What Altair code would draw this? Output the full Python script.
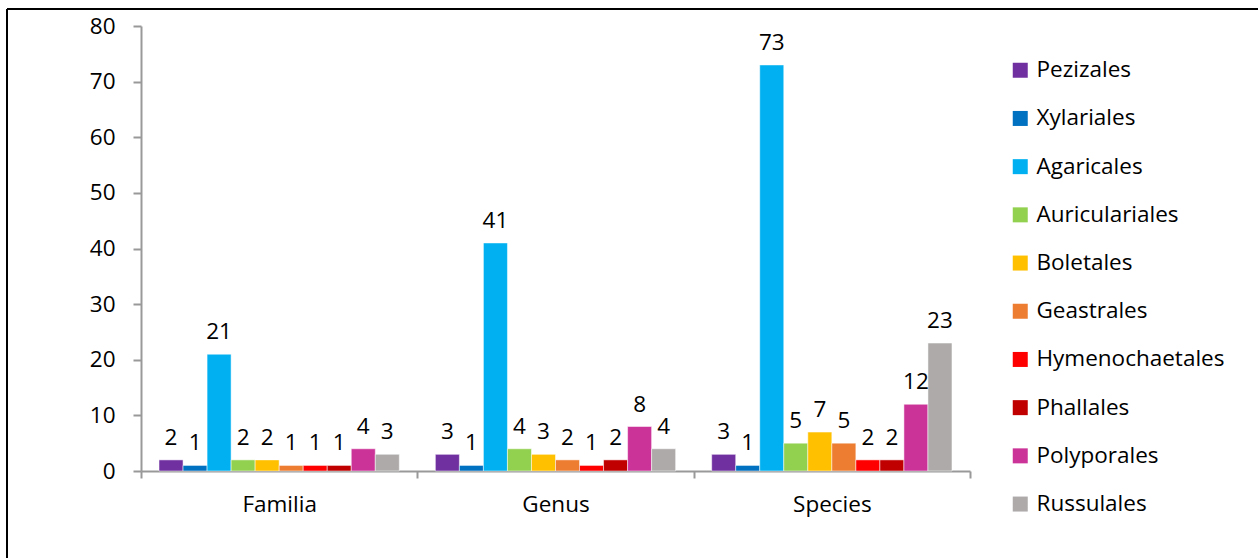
import altair as alt
import pandas as pd

# Taxonomic ranks on the x axis and fungal orders as series
ranks = ["Familia", "Genus", "Species"]
orders = [
    "Pezizales", "Xylariales", "Agaricales", "Auriculariales", "Boletales",
    "Geastrales", "Hymenochaetales", "Phallales", "Polyporales", "Russulales",
]
familia = [2, 1, 21, 2, 2, 1, 1, 1, 4, 3]
genus = [3, 1, 41, 4, 3, 2, 1, 2, 8, 4]
species = [3, 1, 73, 5, 7, 5, 2, 2, 12, 23]
colors = [
    "#7030A0", "#0070C0", "#00B0F0", "#92D050", "#FFC000",
    "#ED7D31", "#FF0000", "#C00000", "#CC3399", "#AEAAAA",
]

rows = []
for rank, vals in zip(ranks, [familia, genus, species]):
    for order, v in zip(orders, vals):
        rows.append({"rank": rank, "order": order, "count": v})
df = pd.DataFrame(rows)

FONT = "Open Sans"
FS = 22.5
AXIS_GRAY = "#999999"

x_enc = alt.X(
    "rank:N",
    sort=ranks,
    title=None,
    scale=alt.Scale(paddingInner=0, paddingOuter=0),
    axis=alt.Axis(
        labelAngle=0, labelFontSize=FS, labelColor="#000000", labelFont=FONT,
        tickBand="extent", tickSize=7, tickColor=AXIS_GRAY, tickWidth=2,
        domainColor=AXIS_GRAY, domainWidth=2, labelPadding=15, grid=False,
    ),
)
xoff_enc = alt.XOffset(
    "order:N", sort=orders, scale=alt.Scale(paddingInner=0, paddingOuter=0.75)
)
y_enc = alt.Y(
    "count:Q",
    title=None,
    scale=alt.Scale(domain=[0, 80], nice=False),
    axis=alt.Axis(
        values=list(range(0, 81, 10)), labelFontSize=FS, labelColor="#000000",
        labelFont=FONT, tickSize=8, tickColor=AXIS_GRAY, tickWidth=2,
        domainColor=AXIS_GRAY, domainWidth=2, labelPadding=18, grid=False,
    ),
)

bars = alt.Chart(df).mark_bar(stroke="white", strokeWidth=0.5).encode(
    x=x_enc,
    xOffset=xoff_enc,
    y=y_enc,
    color=alt.Color(
        "order:N",
        sort=orders,
        scale=alt.Scale(domain=orders, range=colors),
        legend=alt.Legend(
            title=None, orient="none", legendX=868, legendY=33,
            symbolType="square", symbolSize=225, symbolStrokeWidth=0,
            labelFontSize=FS, labelFont=FONT, labelColor="#000000",
            labelOffset=5, rowPadding=25.2, padding=0, labelLimit=300,
        ),
    ),
)

labels = alt.Chart(df).mark_text(
    baseline="alphabetic", dy=-15, fontSize=FS, font=FONT, color="#000000"
).encode(
    x=alt.X("rank:N", sort=ranks),
    xOffset=alt.XOffset("order:N", sort=orders),
    y="count:Q",
    text="count:Q",
)

# Outer frame lines along the top and left edge of the figure
frame_top = alt.Chart(df).mark_rule(color="#000000", strokeWidth=1).encode(
    x=alt.value(-134), x2=alt.value(1130), y=alt.value(-17)
)
frame_left = alt.Chart(df).mark_rule(color="#000000", strokeWidth=1).encode(
    x=alt.value(-134), y=alt.value(-17), y2=alt.value(100 + 445)
)

chart = (
    alt.layer(bars, labels, frame_top, frame_left)
    .properties(
        width=829,
        height=445,
        autosize=alt.AutoSizeParams(type="none"),
        padding={"left": 141, "top": 26, "right": 288, "bottom": 87},
        background="white",
    )
    .configure_view(strokeWidth=0)
)

chart.save("out.html", embed_options={"renderer": "svg", "actions": False})
